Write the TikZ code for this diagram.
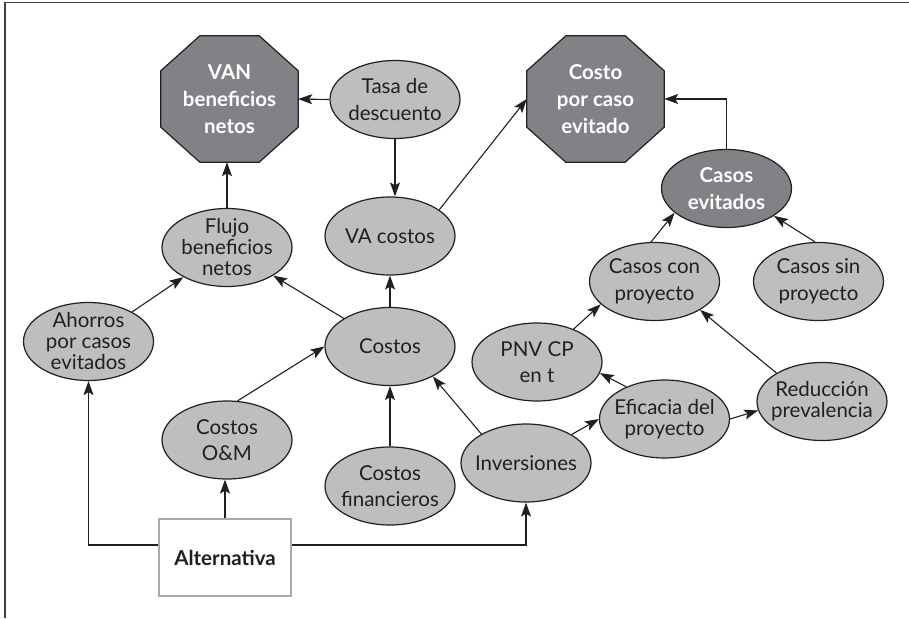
\documentclass[tikz,border=0pt]{standalone}
\usepackage{fontspec}
\setmainfont{Lato}
\usetikzlibrary{shapes.geometric,arrows.meta,calc}
\pgfdeclarelayer{background}
\pgfsetlayers{background,main}
\definecolor{ink}{HTML}{231F20}
\definecolor{lightfill}{HTML}{BCBEC0}
\definecolor{darkfill}{HTML}{808285}
\definecolor{boxline}{HTML}{A7A9AC}
\tikzset{
  oval/.style={ellipse, draw=ink, line width=1.2pt, fill=lightfill, text=ink,
    minimum width=130pt, minimum height=78pt, inner xsep=-25pt, inner ysep=-30pt,
    align=center, font=\fontsize{20.5}{26.5}\selectfont},
  tight/.style={font=\fontsize{20.5}{21}\selectfont},
  darkoval/.style={oval, fill=darkfill, text=white,
    font=\bfseries\fontsize{20.5}{26.5}\selectfont},
  octo/.style={rectangle, minimum width=137pt, minimum height=126pt, inner sep=0pt,
    text=white, align=center, font=\bfseries\fontsize{20.5}{26.7}\selectfont},
  octofill/.style={fill=darkfill, draw=ink, line width=1.2pt},
  altbox/.style={rectangle, draw=boxline, line width=2.2pt, fill=white,
    minimum width=132pt, minimum height=77pt, text=ink,
    font=\bfseries\fontsize{20.5}{25}\selectfont},
  arr/.style={draw=ink, line width=1.1pt, -{Stealth[length=14pt,width=10pt,inset=3pt]}},
  frameline/.style={draw=black!75, line width=1.5pt}
}
% octagon outline behind a rectangular node: 39pt horizontal and 35pt vertical cuts
\newcommand\octoshape[1]{%
  \begin{pgfonlayer}{background}
    \path[octofill]
      ($(#1.north west)+(39pt,0)$) -- ($(#1.north east)+(-39pt,0)$) --
      ($(#1.north east)+(0,-35pt)$) -- ($(#1.south east)+(0,35pt)$) --
      ($(#1.south east)+(-39pt,0)$) -- ($(#1.south west)+(39pt,0)$) --
      ($(#1.south west)+(0,35pt)$) -- ($(#1.north west)+(0,-35pt)$) -- cycle;
  \end{pgfonlayer}}
\begin{document}
\begin{tikzpicture}[x=1pt, y=-1pt]
  \useasboundingbox (0,0) rectangle (909,618);
  \draw[frameline] (5,618) -- (5,2.5) -- (909,2.5);

  % outcome octagons
  \node[octo] (van) at (229.5,99) {VAN\\beneficios\\netos};
  \node[octo] (costo) at (595.5,99) {Costo\\por caso\\evitado};
  \octoshape{van}
  \octoshape{costo}

  % variables
  \node[oval] (tasa) at (395,99.5) {Tasa de\\descuento};
  \node[oval] (va) at (390,236) {VA costos};
  \node[oval,tight] (flujo) at (227,247.5) {Flujo\\beneficios\\netos};
  \node[oval,tight] (ahorros) at (88.5,341.5) {Ahorros\\por casos\\evitados};
  \node[oval] (costos) at (390,346.5) {Costos};
  \node[oval] (om) at (227,440) {Costos\\O\&M};
  \node[oval] (cfin) at (390,486) {Costos\\financieros};
  \node[oval] (inv) at (526,463) {Inversiones};
  \node[oval] (pnv) at (537,362) {PNV CP\\en t};
  \node[oval,tight] (eff) at (664.5,419) {Eficacia del\\proyecto};
  \node[oval,tight] (red) at (822,401.5) {Reducción\\prevalencia};
  \node[oval] (ccon) at (654.5,281.5) {Casos con\\proyecto};
  \node[oval] (csin) at (818.5,281.5) {Casos sin\\proyecto};
  \node[darkoval] (cev) at (726.5,188.5) {Casos\\evitados};

  % decision
  \node[altbox] (alt) at (225,557.5) {Alternativa};

  % connectors
  \draw[arr] (tasa.west) -- (van.east);
  \draw[arr] (tasa.south) -- (tasa.south |- va.north);
  \draw[arr] (va.28) -- (costo.west);
  \draw[arr] (cev.north) |- (costo.east);
  \draw[arr] (flujo.north) -- (flujo.north |- van.south);
  \draw[arr] (ahorros) -- (flujo);
  \draw[arr] (costos) -- (flujo);
  \draw[arr] (costos.north) -- (va.south);
  \draw[arr] (om.75) -- (costos.west);
  \draw[arr] (cfin.north) -- (costos.south);
  \draw[arr] (inv.147) -- (costos.-35);
  \draw[arr] (inv.32) -- (eff.west);
  \draw[arr] (eff.140) -- (pnv.-10);
  \draw[arr] (eff.east) -- (red.188);
  \draw[arr] (red.148) -- (ccon.-32);
  \draw[arr] (pnv.42) -- (ccon.203);
  \draw[arr] (ccon.95) -- (cev.205);
  \draw[arr] (csin.95) -- (cev.-30);
  \draw[arr] (alt.north) -- (alt.north |- om.south);
  \draw[arr] ([yshift=12.5pt]alt.west) -| (ahorros.south);
  \draw[arr] ([yshift=12.5pt]alt.east) -| (inv.south);
\end{tikzpicture}
\end{document}
